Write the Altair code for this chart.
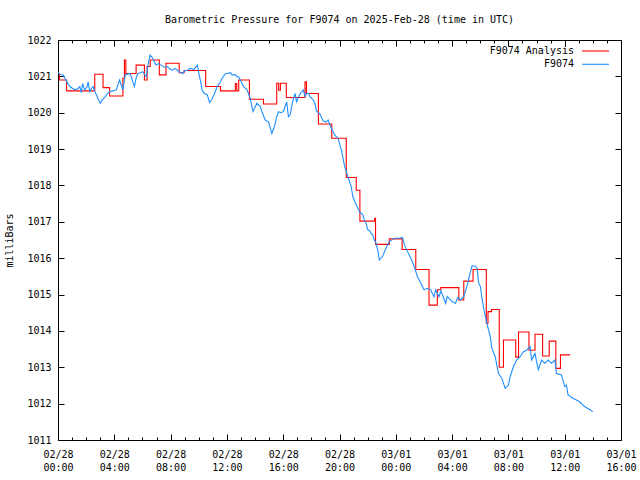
import altair as alt
import pandas as pd

# ---- data (hours after 2025-02-28 00:00 UTC, millibars) ----
blue_hours = [0.00, 0.15, 0.37, 0.56, 0.70, 0.85, 1.00, 1.20, 1.40, 1.55, 1.65, 1.75, 1.90, 2.05, 2.14,
              2.26, 2.40, 2.49, 2.60, 2.73, 2.85, 3.01, 3.15, 3.32, 3.50, 3.67, 3.90, 4.14, 4.37, 4.50,
              4.61, 4.78, 5.08, 5.20, 5.31, 5.43, 5.55, 5.67, 5.85, 6.02, 6.15, 6.26, 6.42, 6.54, 6.73,
              6.85, 6.96, 7.15, 7.31, 7.55, 7.78, 7.95, 8.13, 8.30, 8.49, 8.65, 8.84, 9.00, 9.19, 9.40,
              9.66, 9.90, 10.02, 10.14, 10.25, 10.42, 10.61, 10.77, 10.90, 11.08, 11.31, 11.55, 11.66,
              11.90, 12.01, 12.25, 12.37, 12.61, 12.72, 12.84, 13.07, 13.19, 13.43, 13.66, 13.85, 14.00,
              14.13, 14.37, 14.49, 14.72, 14.96, 15.10, 15.19, 15.38, 15.54, 15.66, 15.85, 16.01, 16.13,
              16.25, 16.37, 16.50, 16.60, 16.70, 16.84, 16.95, 17.07, 17.25, 17.43, 17.55, 17.66, 17.80,
              17.90, 18.01, 18.13, 18.25, 18.36, 18.60, 18.84, 19.07, 19.19, 19.42, 19.66, 19.89, 20.13,
              20.37, 20.60, 20.83, 20.95, 21.19, 21.42, 21.66, 21.78, 21.89, 22.01, 22.13, 22.25, 22.36,
              22.48, 22.60, 22.72, 22.83, 23.07, 23.30, 23.54, 23.89, 24.25, 24.48, 24.60, 24.83, 25.07,
              25.31, 25.54, 25.78, 26.01, 26.24, 26.49, 26.60, 26.72, 26.83, 27.07, 27.20, 27.30, 27.54,
              27.65, 27.77, 28.01, 28.24, 28.40, 28.59, 28.83, 29.07, 29.26, 29.42, 29.66, 29.78, 29.89,
              30.01, 30.12, 30.29, 30.48, 30.71, 30.83, 31.06, 31.30, 31.53, 31.77, 32.01, 32.12, 32.36,
              32.59, 32.83, 33.07, 33.30, 33.54, 33.65, 33.89, 34.12, 34.36, 34.59, 34.83, 35.06, 35.30,
              35.41, 35.77, 36.00, 36.12, 36.24, 36.59, 37.06, 37.41, 37.77, 38.00]
blue_hpa = [1021.11, 1021.05, 1021.04, 1020.90, 1020.80, 1020.72, 1020.68, 1020.63, 1020.66, 1020.72,
            1020.55, 1020.80, 1020.63, 1020.70, 1020.85, 1020.58, 1020.68, 1020.72, 1020.60, 1020.49,
            1020.38, 1020.26, 1020.36, 1020.42, 1020.52, 1020.58, 1020.60, 1020.63, 1020.90, 1020.75,
            1020.63, 1021.04, 1021.08, 1021.00, 1020.85, 1020.72, 1020.95, 1021.08, 1021.10, 1021.13,
            1021.05, 1020.99, 1021.36, 1021.59, 1021.50, 1021.40, 1021.31, 1021.35, 1021.31, 1021.25,
            1021.27, 1021.20, 1021.17, 1021.22, 1021.17, 1021.12, 1021.08, 1021.15, 1021.17, 1021.22,
            1021.19, 1021.31, 1021.05, 1020.85, 1020.60, 1020.53, 1020.49, 1020.28, 1020.35, 1020.49,
            1020.72, 1020.85, 1020.95, 1021.08, 1021.08, 1021.10, 1021.04, 1021.04, 1020.99, 1020.99,
            1020.81, 1020.72, 1020.63, 1020.40, 1020.03, 1020.15, 1020.26, 1020.17, 1020.03, 1019.80,
            1019.75, 1019.55, 1019.43, 1019.62, 1019.89, 1020.03, 1020.00, 1020.03, 1020.17, 1020.30,
            1019.89, 1019.95, 1020.17, 1020.35, 1020.53, 1020.30, 1020.42, 1020.55, 1020.63, 1020.45,
            1020.53, 1020.53, 1020.44, 1020.40, 1020.35, 1020.26, 1020.05, 1019.97, 1019.77, 1019.75,
            1019.80, 1019.57, 1019.39, 1019.30, 1018.98, 1018.52, 1018.24, 1017.97, 1017.69, 1017.46,
            1017.28, 1017.19, 1017.02, 1016.96, 1016.78, 1016.76, 1016.68, 1016.64, 1016.50, 1016.41,
            1016.22, 1015.95, 1016.06, 1016.27, 1016.45, 1016.55, 1016.55, 1016.57, 1016.38, 1016.18,
            1016.00, 1015.77, 1015.49, 1015.31, 1015.13, 1015.17, 1015.13, 1015.02, 1014.94, 1015.13,
            1014.94, 1015.10, 1015.00, 1014.76, 1014.95, 1014.90, 1014.80, 1014.76, 1014.92, 1014.85,
            1014.94, 1015.25, 1015.56, 1015.79, 1015.78, 1015.72, 1015.31, 1015.22, 1014.90, 1014.53,
            1014.20, 1013.84, 1013.52, 1013.29, 1012.83, 1012.70, 1012.42, 1012.51, 1012.74, 1013.02,
            1013.20, 1013.29, 1013.43, 1013.47, 1013.57, 1013.20, 1013.38, 1012.93, 1013.20, 1013.11,
            1013.20, 1013.11, 1013.20, 1012.83, 1012.79, 1012.47, 1012.51, 1012.24, 1012.15, 1012.05,
            1011.92, 1011.84, 1011.78]

red_hours = [0.00, 0.10, 0.61, 2.61, 3.20, 3.67, 4.61, 4.72, 4.82, 5.55, 6.14, 6.33, 6.55, 7.20, 7.67,
             8.61, 8.96, 10.49, 11.55, 12.60, 12.70, 12.84, 13.60, 14.60, 15.54, 15.68, 15.80, 16.22,
             17.55, 17.65, 18.50, 19.45, 20.48, 21.19, 21.45, 22.50, 22.56, 23.54, 24.45, 25.42, 26.36,
             26.95, 27.20, 28.48, 28.83, 29.49, 30.43, 30.55, 30.80, 31.35, 31.65, 32.52, 32.72, 33.46,
             33.89, 34.43, 34.90, 35.37, 35.70, 36.35]
red_hpa = [1021.08, 1020.90, 1020.60, 1021.06, 1020.69, 1020.46, 1020.95, 1021.45, 1021.08, 1021.31,
           1020.90, 1021.27, 1021.45, 1021.04, 1021.36, 1021.10, 1021.16, 1020.72, 1020.60, 1020.80,
           1020.60, 1020.90, 1020.37, 1020.24, 1020.81, 1020.62, 1020.81, 1020.42, 1020.85, 1020.53,
           1019.69, 1019.30, 1018.22, 1017.87, 1017.02, 1017.10, 1016.38, 1016.53, 1016.24, 1015.69,
           1014.71, 1015.13, 1015.19, 1014.85, 1015.37, 1015.69, 1014.21, 1014.53, 1014.59, 1013.00,
           1013.75, 1013.28, 1013.97, 1013.47, 1013.91, 1013.31, 1013.72, 1012.97, 1013.34, 1013.36]

x_major = list(range(0, 41, 4))
x_minor = list(range(0, 41))
y_major = list(range(1011, 1023))
legend_labels = ["F9074 Analysis", "F9074"]
series_colors = ["#ff0000", "#1e90ff"]
title_text = "Barometric Pressure for F9074 on 2025-Feb-28 (time in UTC)"
y_title = "milliBars"

blue = pd.DataFrame({"h": blue_hours, "p": blue_hpa})
red = pd.DataFrame({"h": red_hours, "p": red_hpa})

FONT = "DejaVu Sans Mono"
xs = alt.Scale(domain=[0, 40], nice=False, zero=False)
ys = alt.Scale(domain=[1011, 1022], nice=False, zero=False)

label_expr = ("[datum.value < 24 ? '02/28' : '03/01', "
              "((datum.value % 24) < 10 ? '0' : '') + (datum.value % 24) + ':00']")


def tick_axis(orient, values, size):
    return alt.Axis(orient=orient, values=values, offset=-size, tickSize=size, ticks=True,
                    labels=False, domain=False, grid=False, title=None,
                    tickColor="black", tickWidth=1)


# red analysis line, carrying the labelled axes
red_layer = alt.Chart(red).mark_line(interpolate="step-after", color=series_colors[0],
                                     strokeWidth=1.1).encode(
    x=alt.X("h:Q", scale=xs, axis=alt.Axis(
        orient="bottom", values=x_major, labelExpr=label_expr, ticks=False, tickSize=0,
        domain=False, grid=False, title=None, labelFont=FONT, labelFontSize=10,
        labelColor="black", labelPadding=9, labelBaseline="top", labelLineHeight=13,
        labelFlush=False, labelOverlap=False)),
    y=alt.Y("p:Q", scale=ys, axis=alt.Axis(
        orient="left", values=y_major, ticks=False, tickSize=0, domain=False, grid=False,
        labelFont=FONT, labelFontSize=10, labelColor="black", labelPadding=7,
        labelFlush=False, labelOverlap=False, format="d",
        title=y_title, titleFont=FONT, titleFontSize=10, titleFontWeight="normal",
        titleColor="black", titlePadding=12)),
)

# blue observed line, carrying inward major ticks bottom / left
blue_layer = alt.Chart(blue).mark_line(color=series_colors[1], strokeWidth=1.1).encode(
    x=alt.X("h:Q", scale=xs, axis=tick_axis("bottom", x_major, 6)),
    y=alt.Y("p:Q", scale=ys, axis=tick_axis("left", y_major, 6)),
)

ghost1 = alt.Chart(blue).mark_line(strokeOpacity=0).encode(
    x=alt.X("h:Q", scale=xs, axis=tick_axis("bottom", x_minor, 3)),
    y=alt.Y("p:Q", scale=ys, axis=tick_axis("right", y_major, 6)),
)
ghost2 = alt.Chart(blue).mark_line(strokeOpacity=0).encode(
    x=alt.X("h:Q", scale=xs, axis=tick_axis("top", x_major, 6)),
    y=alt.Y("p:Q", scale=ys, axis=None),
)
ghost3 = alt.Chart(blue).mark_line(strokeOpacity=0).encode(
    x=alt.X("h:Q", scale=xs, axis=tick_axis("top", x_minor, 3)),
    y=alt.Y("p:Q", scale=ys, axis=None),
)

# gnuplot-style key (text left of the line sample)
legend_layers = []
for i, (lab, col) in enumerate(zip(legend_labels, series_colors)):
    ly = 11 + 13.3 * i
    legend_layers.append(
        alt.Chart(pd.DataFrame({"label": [lab]})).mark_text(
            align="right", baseline="middle", font=FONT, fontSize=10, color="black"
        ).encode(text="label:N", x=alt.value(516), y=alt.value(ly))
    )
    legend_layers.append(
        alt.Chart(pd.DataFrame({"label": [lab]})).mark_rule(color=col, strokeWidth=1.1).encode(
            x=alt.value(524), x2=alt.value(551), y=alt.value(ly))
    )

chart = alt.layer(red_layer, blue_layer, ghost1, ghost2, ghost3, *legend_layers).resolve_axis(
    x="independent", y="independent"
).properties(
    width=563, height=400,
    title=alt.TitleParams(text=title_text, font=FONT, fontSize=10, fontWeight="normal",
                          color="black", anchor="middle", offset=10),
    padding={"left": 58, "top": 40, "right": 19, "bottom": 40},
    autosize=alt.AutoSizeParams(type="none"),
    background="white",
).configure_view(stroke="black", strokeWidth=1)

chart.save("out.html", embed_options={"renderer": "svg", "actions": False})
